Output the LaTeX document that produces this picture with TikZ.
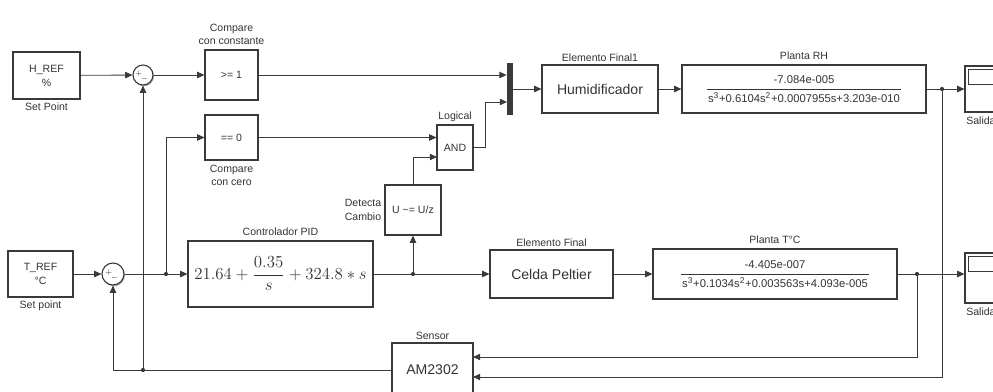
\documentclass[tikz,border=0pt]{standalone}
\usepackage[no-math]{fontspec}
\setmainfont{Liberation Sans}
\usepackage{amsmath}
\usetikzlibrary{arrows.meta,positioning,shadows,calc}
\definecolor{slLine}{HTML}{3A3A3A}
\definecolor{slText}{HTML}{333333}

\begin{document}
\begin{tikzpicture}[x=0.025cm,y=-0.025cm,>={Triangle[length=1.8mm,width=1.6mm]},
        line width=0.6pt,
        blk/.style={draw=slLine,line width=0.8pt,fill=white,inner sep=1pt,align=center,text=slText,
                    drop shadow={shadow xshift=0.7pt,shadow yshift=-0.9pt,fill=black,opacity=0.35}},
        sm/.style={font=\fontsize{7.5}{10}\selectfont},
        big/.style={font=\fontsize{10}{12}\selectfont},
        tf/.style={font=\fontsize{8}{9}\selectfont},
        lbl/.style={font=\fontsize{7.5}{9.5}\selectfont,text=slText,inner sep=1pt,align=center},
        sumc/.style={circle,draw=slLine,line width=0.8pt,fill=white,inner sep=0pt,
                    drop shadow={shadow xshift=0.7pt,shadow yshift=-0.9pt,fill=black,opacity=0.35}},
        sgn/.style={font=\tiny,text=slText,inner sep=0pt},
        dot/.style={circle,fill=slLine,inner sep=0pt,minimum size=3pt},
        wire/.style={->,draw=slLine}]
        \useasboundingbox (0,0) rectangle (993,391);
        \clip (0,0) rectangle (993,391);
        % humidity loop
        \node[blk,sm,minimum width=1.675cm,minimum height=1.175cm] (href) at (46.5,75.5) {H\_REF\\\%};
        \node[lbl,below=1pt of href] {Set Point};
        \node[sumc,minimum size=0.5cm] (sum1) at (143,75) {};
        \node[sgn,xshift=-3pt,yshift=1pt] at (sum1) {$+$};
        \node[sgn,xshift=1pt,yshift=-3pt] at (sum1) {$-$};
        \node[blk,sm,minimum width=1.325cm,minimum height=1.25cm] (cmp1) at (231.5,75) {>= 1};
        \node[lbl,above=2pt of cmp1] {Compare\\con constante};
        \node[blk,sm,minimum width=1.325cm,minimum height=1.125cm] (cmp0) at (231.5,137.5) {== 0};
        \node[lbl,below=2pt of cmp0] {Compare\\con cero};
        \node[blk,sm,minimum width=0.9cm,minimum height=1.125cm] (land) at (455,147.5) {AND};
        \node[lbl,above=1pt of land] {Logical};
        \node[blk,sm,minimum width=1.4cm,minimum height=1.25cm] (det) at (413,210) {U \textasciitilde= U/z};
        \node[lbl,left=1pt of det,align=right] {Detecta\\Cambio};
        \node[fill=slLine,minimum width=0.15cm,minimum height=1.3cm,inner sep=0pt] (mux) at (510,89) {};
        \node[blk,big,minimum width=2.9cm,minimum height=1.2cm] (hum) at (600,89) {Humidificador};
        \node[lbl,above=1pt of hum] {Elemento Final1};
        \node[blk,tf,minimum width=6.1cm,minimum height=1.2cm] (prh) at (804,89)
            {\renewcommand{\arraystretch}{1.45}\begin{tabular}{@{\hspace{1pt}}c@{\hspace{1pt}}}-7.084e-005\\\hline
             s\textsuperscript{3}+0.6104s\textsuperscript{2}+0.0007955s+3.203e-010\end{tabular}};
        \node[lbl,above=2pt of prh] {Planta RH};
        \node[blk,minimum width=1.125cm,minimum height=1.15cm] (sc1) at (987.5,89) {};
        \draw[slLine,line width=0.7pt] ($(sc1.north west)+(4,4)$) rectangle ($(sc1.north east)+(-4,19)$);
        \node[lbl,anchor=north west] at ($(sc1.south west)+(0,2)$) {Salida};
        % temperature loop
        \node[blk,sm,minimum width=1.625cm,minimum height=1.15cm] (tref) at (40.5,274) {T\_REF\\°C};
        \node[lbl,below=1pt of tref] {Set point};
        \node[sumc,minimum size=0.55cm] (sum2) at (113,274) {};
        \node[sgn,xshift=-3pt,yshift=1pt] at (sum2) {$+$};
        \node[sgn,xshift=1pt,yshift=-3pt] at (sum2) {$-$};
        \node[blk,minimum width=4.625cm,minimum height=1.65cm,font=\fontsize{12}{14}\selectfont] (pid) at (280.5,274)
            {$21.64+\dfrac{0.35}{s}+324.8*s$};
        \node[lbl,above=2pt of pid] {Controlador PID};
        \node[blk,big,minimum width=3.075cm,minimum height=1.2cm] (pel) at (551.5,274) {Celda Peltier};
        \node[lbl,above=1pt of pel] {Elemento Final};
        \node[blk,tf,minimum width=6.1cm,minimum height=1.25cm] (ptc) at (775,274)
            {\renewcommand{\arraystretch}{1.45}\begin{tabular}{@{\hspace{1pt}}c@{\hspace{1pt}}}-4.405e-007\\\hline
             s\textsuperscript{3}+0.1034s\textsuperscript{2}+0.003563s+4.093e-005\end{tabular}};
        \node[lbl,above=2pt of ptc] {Planta T°C};
        \node[blk,minimum width=1.125cm,minimum height=1.25cm] (sc2) at (987.5,278) {};
        \draw[slLine,line width=0.7pt] ($(sc2.north west)+(4,4)$) rectangle ($(sc2.north east)+(-4,19)$);
        \node[lbl,anchor=north west] at ($(sc2.south west)+(0,2)$) {Salida};
        \node[blk,big,minimum width=2.025cm,minimum height=1.35cm] (sen) at (432.5,370) {AM2302};
        \node[lbl,above=1pt of sen] {Sensor};
        % branch points
        \coordinate (jh) at (942,89);
        \coordinate (jt) at (917,274);
        \coordinate (jc) at (166,274);
        \coordinate (jd) at (413,274);
        \coordinate (jf) at (143,370);
        \coordinate (mx2) at (507,102);
        \coordinate (an2) at (437,157);
        \coordinate (sn1) at (473,357);
        \coordinate (sn2) at (473,377);
        % signals
        \draw[wire] (href) -- (sum1);
        \draw[wire] (sum1) -- (cmp1);
        \draw[wire] (cmp1) -- (cmp1 -| mux.west);
        \draw[wire] (cmp0) -- (cmp0 -| land.west);
        \draw[wire] (land) -- ++(30,0) |- (mx2);
        \draw[wire] (mux) -- (hum);
        \draw[wire] (hum) -- (prh);
        \draw[wire] (prh) -- (sc1);
        \draw[wire] (jh) |- (sn2);
        \draw[wire] (tref) -- (sum2);
        \draw[wire] (sum2) -- (pid);
        \draw[wire] (jc) |- (cmp0);
        \draw[wire] (pid) -- (pel);
        \draw[wire] (jd) -- (det);
        \draw[wire] (det) |- (an2);
        \draw[wire] (pel) -- (ptc);
        \draw[wire] (ptc) -- (jt -| sc2.west);
        \draw[wire] (jt) |- (sn1);
        \draw[wire] (sen) -| (sum2);
        \draw[wire] (jf) -- (sum1);
        \foreach \j in {jh,jt,jc,jd,jf} \node[dot] at (\j) {};
      \end{tikzpicture}
\end{document}
